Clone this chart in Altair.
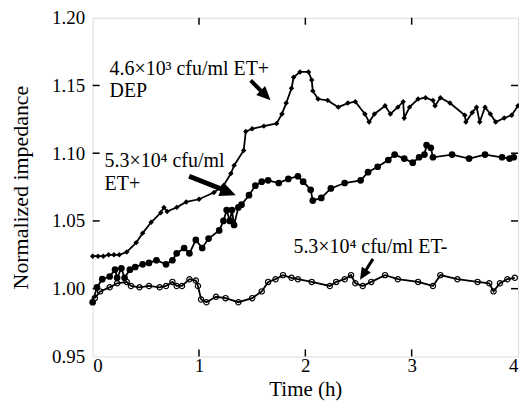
import altair as alt
import pandas as pd

# ---- data ----
dep_t = [0.00, 0.05, 0.10, 0.15, 0.20, 0.25, 0.32, 0.41, 0.47, 0.55, 0.64, 0.67, 0.70, 0.79, 0.88, 1.00,
         1.14, 1.23, 1.30, 1.33, 1.42, 1.44, 1.50, 1.61, 1.73, 1.78, 1.82, 1.87, 1.89, 1.95, 2.03,
         2.06, 2.07, 2.12, 2.21, 2.31, 2.40, 2.47, 2.56, 2.60, 2.65, 2.75, 2.80, 2.87, 2.92, 2.93,
         2.98, 3.06, 3.13, 3.20, 3.22, 3.27, 3.36, 3.50, 3.51, 3.57, 3.61, 3.64, 3.69, 3.74, 3.79,
         3.87, 3.94, 4.00]
dep_z = [1.024, 1.024, 1.024, 1.025, 1.025, 1.025, 1.027, 1.034, 1.041, 1.049, 1.056, 1.060, 1.057, 1.060,
         1.064, 1.066, 1.071, 1.076, 1.085, 1.091, 1.102, 1.116, 1.118, 1.120, 1.122, 1.129, 1.137,
         1.148, 1.156, 1.160, 1.160, 1.154, 1.146, 1.140, 1.139, 1.134, 1.137, 1.138, 1.129, 1.123,
         1.129, 1.135, 1.129, 1.134, 1.138, 1.126, 1.134, 1.140, 1.141, 1.139, 1.135, 1.141, 1.137,
         1.128, 1.123, 1.130, 1.134, 1.123, 1.134, 1.129, 1.123, 1.126, 1.128, 1.135]

etp_t = [0.00, 0.04, 0.09, 0.16, 0.21, 0.23, 0.27, 0.30, 0.35, 0.40, 0.47, 0.53, 0.60, 0.69, 0.75,
         0.79, 0.86, 0.91, 0.97, 1.03, 1.09, 1.19, 1.23, 1.26, 1.29, 1.31, 1.33, 1.37, 1.40, 1.47,
         1.53, 1.59, 1.65, 1.75, 1.84, 1.93, 1.98, 2.05, 2.07, 2.15, 2.24, 2.37, 2.52, 2.59, 2.68,
         2.78, 2.84, 2.93, 3.01, 3.07, 3.12, 3.14, 3.18, 3.20, 3.38, 3.54, 3.69, 3.85, 3.92, 3.96]
etp_z = [0.990, 1.001, 1.007, 1.009, 1.014, 1.008, 1.015, 1.008, 1.014, 1.016, 1.018, 1.019, 1.021,
         1.018, 1.021, 1.026, 1.030, 1.026, 1.036, 1.030, 1.037, 1.043, 1.050, 1.058, 1.050, 1.058,
         1.047, 1.060, 1.062, 1.069, 1.076, 1.079, 1.080, 1.078, 1.081, 1.083, 1.079, 1.073, 1.065,
         1.067, 1.074, 1.078, 1.080, 1.086, 1.090, 1.095, 1.099, 1.096, 1.093, 1.097, 1.099, 1.106,
         1.104, 1.097, 1.099, 1.096, 1.099, 1.097, 1.096, 1.097]

etm_t = [0.02, 0.07, 0.16, 0.23, 0.32, 0.36, 0.44, 0.53, 0.63, 0.69, 0.75, 0.79, 0.84, 0.91, 0.97,
         0.99, 1.02, 1.07, 1.16, 1.25, 1.37, 1.50, 1.59, 1.65, 1.72, 1.79, 1.87, 1.93, 2.06, 2.23,
         2.29, 2.37, 2.43, 2.47, 2.54, 2.62, 2.75, 2.87, 3.06, 3.20, 3.27, 3.43, 3.62, 3.73, 3.77,
         3.83, 3.90, 3.97]
etm_z = [0.993, 0.998, 1.001, 1.004, 1.005, 1.002, 1.001, 1.002, 1.001, 1.002, 1.005, 1.002, 1.002,
         1.007, 1.006, 1.002, 0.992, 0.990, 0.994, 0.993, 0.990, 0.993, 0.998, 1.005, 1.007, 1.010,
         1.008, 1.007, 1.005, 1.002, 1.005, 1.007, 1.010, 1.004, 1.002, 1.005, 1.010, 1.007, 1.005,
         1.002, 1.010, 1.007, 1.005, 1.004, 0.998, 1.004, 1.007, 1.008]

x_ticks = [0, 1, 2, 3, 4]
x_inner_ticks = [1, 2, 3]
y_ticks = [0.95, 1.00, 1.05, 1.10, 1.15, 1.20]
y_inner_ticks = [1.00, 1.05, 1.10, 1.15]

ann_text = ["4.6×10³ cfu/ml ET+", "DEP", "5.3×10⁴ cfu/ml", "ET+", "5.3×10⁴ cfu/ml ET-"]
ann_x = [0.159, 0.159, 0.112, 0.112, 1.888]
ann_y = [1.1574, 1.1412, 1.0897, 1.0728, 1.0265]

arrow_tail_x = [1.486, 0.907, 2.636]
arrow_tail_y = [1.1537, 1.083, 1.022]
arrow_end_x = [1.607, 1.234, 2.561]
arrow_end_y = [1.1441, 1.0728, 1.0125]
arrow_tip_x = [1.673, 1.346, 2.514]
arrow_tip_y = [1.139, 1.069, 1.0066]
arrow_angle = [135, 112, 212]
arrow_width = [4, 5, 3]
arrow_head = [784, 1024, 576]

SERIF = "Liberation Serif"
W, H = 427, 340
X0, X1 = 0.0, 4.0
Y0, Y1 = 0.95, 1.20
TICK = 7  # px

dep = pd.DataFrame({"t": dep_t, "z": dep_z})
etp = pd.DataFrame({"t": etp_t, "z": etp_z})
etm = pd.DataFrame({"t": etm_t, "z": etm_z})
ann = pd.DataFrame({"x": ann_x, "y": ann_y, "text": ann_text})
arr = pd.DataFrame({"x": arrow_tail_x, "y": arrow_tail_y, "x2": arrow_end_x, "y2": arrow_end_y,
                    "tx": arrow_tip_x, "ty": arrow_tip_y, "ang": arrow_angle,
                    "w": arrow_width, "sz": arrow_head})

# short inner tick segments, built from the tick lists
dy = (Y1 - Y0) * TICK / H
dx = (X1 - X0) * TICK / W
tx_df = pd.DataFrame({"v": x_inner_ticks})
ty_df = pd.DataFrame({"v": y_inner_ticks})
tx_df["lo"] = Y0
tx_df["lo2"] = Y0 + dy
tx_df["hi"] = Y1
tx_df["hi2"] = Y1 - dy
ty_df["lo"] = X0
ty_df["lo2"] = X0 + dx
ty_df["hi"] = X1
ty_df["hi2"] = X1 - dx

xscale = alt.Scale(domain=[X0, X1], nice=False, zero=False)
yscale = alt.Scale(domain=[Y0, Y1], nice=False, zero=False)

x_main = alt.X("t:Q", scale=xscale, axis=alt.Axis(
    orient="bottom", values=x_ticks, format="d", tickSize=0, domain=False, grid=False,
    labelFont=SERIF, labelFontSize=19, labelColor="black", labelPadding=0,
    title="Time (h)", titleFont=SERIF, titleFontSize=21, titleFontWeight="normal",
    titleColor="black", titlePadding=3))
y_main = alt.Y("z:Q", scale=yscale, axis=alt.Axis(
    orient="left", values=y_ticks, format=".2f", tickSize=0, domain=False, grid=False,
    labelFont=SERIF, labelFontSize=19, labelColor="black", labelPadding=8,
    title="Normalized impedance", titleFont=SERIF, titleFontSize=22, titleFontWeight="normal",
    titleColor="black", titlePadding=19))
x_plain = alt.X("t:Q", scale=xscale, axis=None)
y_plain = alt.Y("z:Q", scale=yscale, axis=None)


def series(df, shape, size, filled, sw, with_axes=False):
    xe, ye = (x_main, y_main) if with_axes else (x_plain, y_plain)
    line = alt.Chart(df).mark_line(color="black", strokeWidth=1.8).encode(x=xe, y=ye)
    pts = alt.Chart(df).mark_point(shape=shape, size=size, filled=filled, color="black",
                                   strokeWidth=sw, opacity=1).encode(x=x_plain, y=y_plain)
    return [line, pts]


layers = []
layers += series(dep, "diamond", 30, True, 1, with_axes=True)
layers += series(etp, "circle", 45, True, 1)
layers += series(etm, "circle", 28, False, 1.2)

tick_x = alt.X("v:Q", scale=xscale, axis=None)
tick_y = alt.Y("v:Q", scale=yscale, axis=None)
ticks_bottom = alt.Chart(tx_df).mark_rule(color="black", strokeWidth=1.5).encode(
    x=tick_x, y=alt.Y("lo:Q", scale=yscale, axis=None), y2="lo2:Q")
ticks_top = alt.Chart(tx_df).mark_rule(color="black", strokeWidth=1.5).encode(
    x=tick_x, y=alt.Y("hi:Q", scale=yscale, axis=None), y2="hi2:Q")
ticks_left = alt.Chart(ty_df).mark_rule(color="black", strokeWidth=1.5).encode(
    y=tick_y, x=alt.X("lo:Q", scale=xscale, axis=None), x2="lo2:Q")
ticks_right = alt.Chart(ty_df).mark_rule(color="black", strokeWidth=1.5).encode(
    y=tick_y, x=alt.X("hi:Q", scale=xscale, axis=None), x2="hi2:Q")

texts = alt.Chart(ann).mark_text(font=SERIF, fontSize=20, align="left", baseline="alphabetic",
                                 color="black").encode(
    x=alt.X("x:Q", scale=xscale, axis=None), y=alt.Y("y:Q", scale=yscale, axis=None), text="text:N")

shafts = alt.Chart(arr).mark_rule(color="black", strokeCap="butt").encode(
    x=alt.X("x:Q", scale=xscale, axis=None), y=alt.Y("y:Q", scale=yscale, axis=None),
    x2="x2:Q", y2="y2:Q", strokeWidth=alt.StrokeWidth("w:Q", scale=None))
heads = alt.Chart(arr).mark_point(shape="M0,0L-0.45,1L0.45,1Z", filled=True, color="black",
                                  opacity=1).encode(
    x=alt.X("tx:Q", scale=xscale, axis=None), y=alt.Y("ty:Q", scale=yscale, axis=None),
    angle=alt.Angle("ang:Q", scale=None), size=alt.Size("sz:Q", scale=None))

layers += [ticks_bottom, ticks_top, ticks_left, ticks_right, texts, shafts, heads]

chart = alt.layer(*layers).resolve_axis(
    x="independent", y="independent"
).properties(
    width=W, height=H,
    autosize=alt.AutoSizeParams(type="none"),
    padding={"left": 85, "top": 9, "right": 1, "bottom": 45},
).configure_view(stroke="black", strokeWidth=2).configure(background="white")

chart.save("out.html", embed_options={"renderer": "svg", "actions": False})
